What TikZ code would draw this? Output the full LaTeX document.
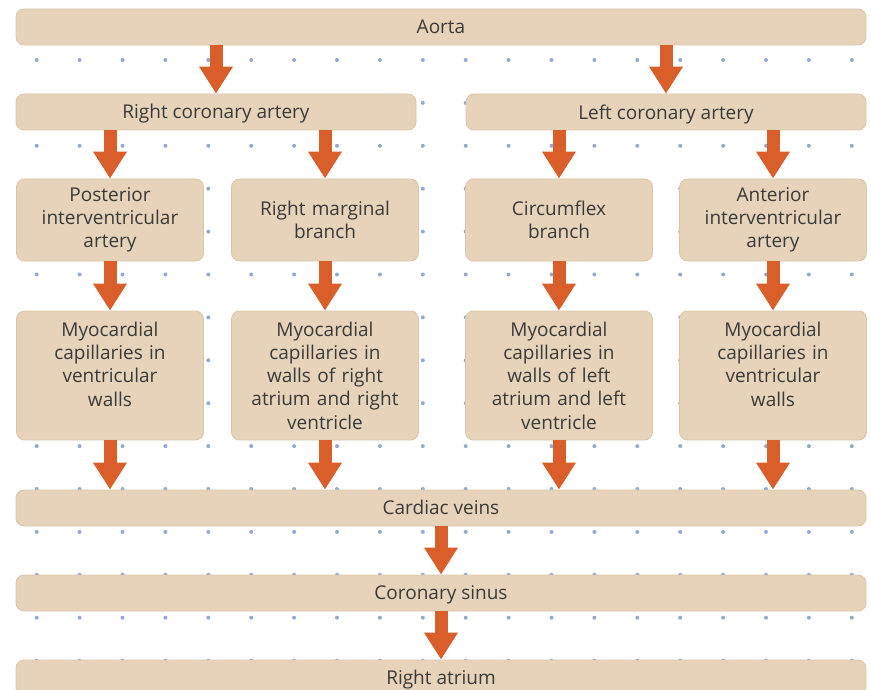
\documentclass[tikz,border=0pt]{standalone}
\usepackage{fontspec}
\setmainfont{Open Sans}
\usetikzlibrary{arrows.meta}
\definecolor{boxfill}{HTML}{E6D3B9}
\definecolor{boxline}{HTML}{D9C6AA}
\definecolor{flowc}{HTML}{D95E2A}
\definecolor{dotc}{HTML}{93A8D2}
\definecolor{textc}{HTML}{3A3A3A}
\begin{document}
\begin{tikzpicture}[x=1pt, y=-1pt,
    box/.style={draw=boxline, fill=boxfill, rounded corners=8pt, line width=0.8pt,
        text=textc, align=center, inner sep=0pt,
        font=\fontsize{19}{23.3}\selectfont},
    wide/.style={box, minimum width=850pt, minimum height=36pt, text depth=0.5pt},
    half/.style={box, minimum width=400pt, minimum height=36pt, text depth=0.5pt},
    branch/.style={box, minimum width=187pt, minimum height=82pt, text width=180pt},
    capil/.style={box, minimum width=187pt, minimum height=129pt, text width=180pt},
    flow/.style={draw=flowc, line width=13pt, -{Triangle[width=32pt, length=27pt, fill=flowc]}}]
    \useasboundingbox (0,0) rectangle (871,690);

    % dotted grid behind everything
    \foreach \i in {0,...,19}
        \foreach \j in {0,...,15}
            \fill[dotc] (36.7+42.9*\i, 17.1+42.9*\j) circle (2);

    % trunk
    \node[wide] (aorta) at (441,27) {Aorta};

    % coronary arteries
    \node[half] (rca) at (216,112) {Right coronary artery};
    \node[half] (lca) at (666,112) {Left coronary artery};

    % branches
    \node[branch] (post) at (110,220) {Posterior\\interventricular\\artery};
    \node[branch] (marg) at (325,220) {Right marginal\\branch};
    \node[branch] (circ) at (559,220) {Circumflex\\branch};
    \node[branch] (ant) at (773,220) {Anterior\\interventricular\\artery};

    % capillary beds (text starts at the top line)
    \node[capil] (capa) at (110,375.5) {Myocardial\\capillaries in\\ventricular\\walls\\~};
    \node[capil] (capb) at (325,375.5) {Myocardial\\capillaries in\\walls of right\\atrium and right\\ventricle};
    \node[capil] (capc) at (559,375.5) {Myocardial\\capillaries in\\walls of left\\atrium and left\\ventricle};
    \node[capil] (capd) at (773,375.5) {Myocardial\\capillaries in\\ventricular\\walls\\~};

    % venous return
    \node[wide] (veins) at (441,508) {Cardiac veins};
    \node[wide] (sinus) at (441,593) {Coronary sinus};
    \node[wide] (atrium) at (441,678) {Right atrium};

    % Connections
    \draw[flow] (aorta.south -| rca.north) -- (rca.north);
    \draw[flow] (aorta.south -| lca.north) -- (lca.north);
    \draw[flow] (rca.south -| post.north) -- (post.north);
    \draw[flow] (rca.south -| marg.north) -- (marg.north);
    \draw[flow] (lca.south -| circ.north) -- (circ.north);
    \draw[flow] (lca.south -| ant.north) -- (ant.north);
    \draw[flow] (post) -- (capa);
    \draw[flow] (marg) -- (capb);
    \draw[flow] (circ) -- (capc);
    \draw[flow] (ant) -- (capd);
    \draw[flow] (capa.south) -- (veins.north -| capa.south);
    \draw[flow] (capb.south) -- (veins.north -| capb.south);
    \draw[flow] (capc.south) -- (veins.north -| capc.south);
    \draw[flow] (capd.south) -- (veins.north -| capd.south);
    \draw[flow] (veins) -- (sinus);
    \draw[flow] (sinus) -- (atrium);
\end{tikzpicture}
\end{document}
